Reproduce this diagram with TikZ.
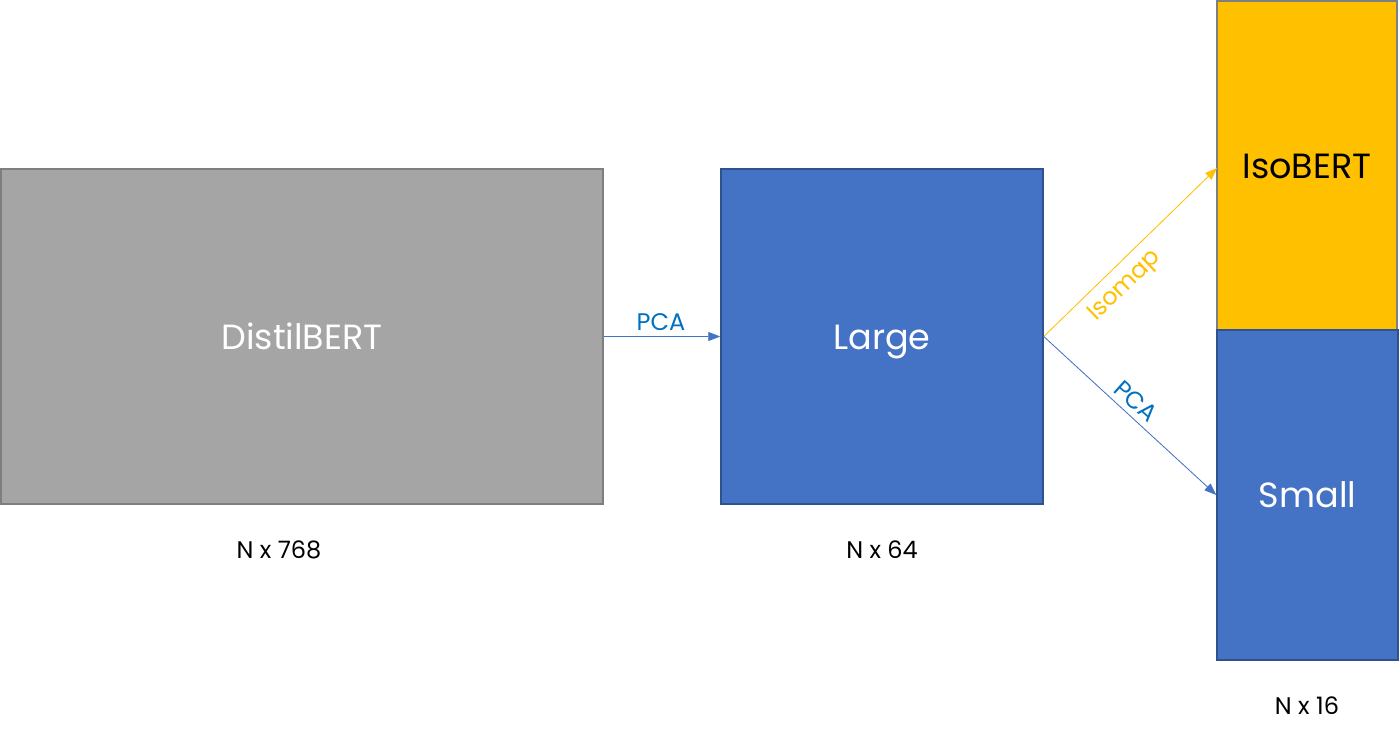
\documentclass[tikz,border=0pt]{standalone}
\usepackage{fontspec}
\setmainfont{Poppins}
\usetikzlibrary{arrows.meta}
\definecolor{boxgray}{HTML}{A5A5A5}
\definecolor{edgegray}{HTML}{7F7F7F}
\definecolor{boxblue}{HTML}{4472C4}
\definecolor{edgeblue}{HTML}{2F528F}
\definecolor{boxgold}{HTML}{FFC000}
\definecolor{labelblue}{HTML}{0070C0}
\tikzset{
  bigbox/.style={draw, line width=1.5pt, inner sep=0pt, text=white, font=\fontsize{35}{40}\selectfont, text height=25pt, text depth=0pt},
  graybox/.style={bigbox, fill=boxgray, draw=edgegray},
  bluebox/.style={bigbox, fill=boxblue, draw=edgeblue},
  goldbox/.style={bigbox, fill=boxgold, draw=edgegray, text=black},
  dimlabel/.style={font=\fontsize{24}{28}\selectfont, text=black, text height=17pt, text depth=0pt},
  arrowlabel/.style={font=\fontsize{24}{28}\selectfont, inner sep=0pt, text height=17pt, text depth=0pt},
  conn/.style={line width=0.8pt, -{Triangle[length=12pt,width=9pt]}}
}
\begin{document}
\begin{tikzpicture}[x=1pt,y=-1pt]
\useasboundingbox (0,0) rectangle (1399,736);
\node[graybox, minimum width=602pt, minimum height=335pt] (distil) at (302,336.5) {DistilBERT};
\node[bluebox, minimum width=322pt, minimum height=335pt] (large) at (882,336.5) {Large};
\node[goldbox, minimum width=180pt, minimum height=329pt] (iso) at (1307,165.5) {IsoBERT};
\node[bluebox, minimum width=181pt, minimum height=330pt] (small) at (1307.5,495) {Small};

\node[dimlabel] (d768) at (279,550) {N x 768};
\node[dimlabel] (d64) at (882,550) {N x 64};
\node[dimlabel] (d16) at (1307,706) {N x 16};

\draw[conn, draw=boxblue, fill=boxblue] (distil.east) -- (large.west);
\node[arrowlabel, text=labelblue] (pca1) at (661,322) {PCA};

\coordinate (isoin) at (1217,168);
\draw[conn, draw=boxgold, fill=boxgold] (large.east) -- (isoin);
\node[arrowlabel, text=boxgold, rotate=44] (isomap) at (1123,284) {Isomap};

\draw[conn, draw=boxblue, fill=boxblue] (large.east) -- (small.west);
\node[arrowlabel, text=labelblue, rotate=-42] (pca2) at (1136,401) {PCA};
\end{tikzpicture}
\end{document}
